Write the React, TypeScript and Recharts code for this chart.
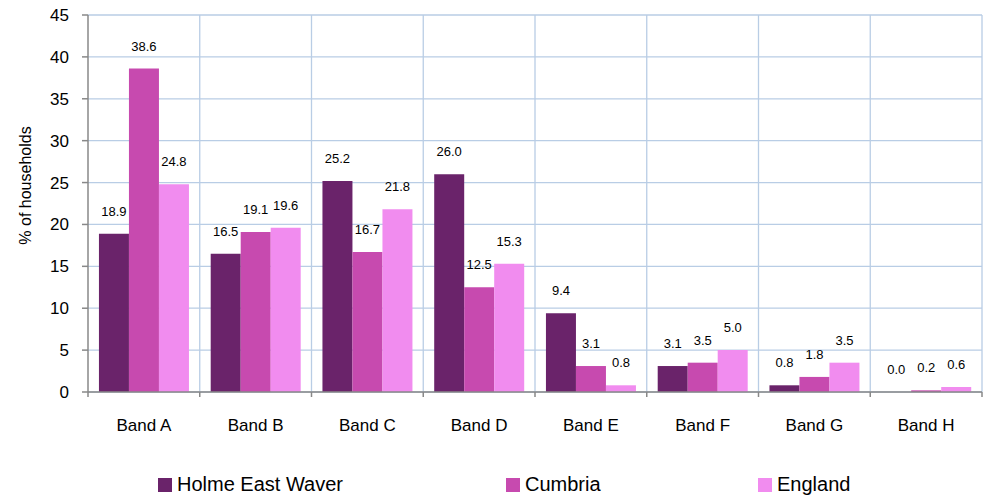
import * as React from 'react';
import {
  BarChart,
  Bar,
  XAxis,
  YAxis,
  CartesianGrid,
  Legend,
  LabelList
} from 'recharts';

const bands = ['Band A', 'Band B', 'Band C', 'Band D', 'Band E', 'Band F', 'Band G', 'Band H'];
const holme = [18.9, 16.5, 25.2, 26.0, 9.4, 3.1, 0.8, 0.0];
const cumbria = [38.6, 19.1, 16.7, 12.5, 3.1, 3.5, 1.8, 0.2];
const england = [24.8, 19.6, 21.8, 15.3, 0.8, 5.0, 3.5, 0.6];
const yTicks = [0, 5, 10, 15, 20, 25, 30, 35, 40, 45];

const series = [
  { key: 'holme', name: 'Holme East Waver', color: '#6A236A' },
  { key: 'cumbria', name: 'Cumbria', color: '#C74AAF' },
  { key: 'england', name: 'England', color: '#F18CEF' }
];

const data = bands.map((band, i) => ({
  band,
  holme: holme[i],
  cumbria: cumbria[i],
  england: england[i]
}));

// legend item left edges, like the Excel layout
const legendLeft = [158, 506, 758];

const AXIS = '#888888';
const GRID = '#B9CDE5';
const LABEL_GAP = 18;

function LegendContent() {
  return (
    <div style={{ position: 'relative', height: 52, width: 984 }}>
      {series.map((s, i) => (
        <div
          key={s.key}
          style={{
            position: 'absolute',
            left: legendLeft[i],
            top: 28,
            display: 'flex',
            alignItems: 'center',
            fontSize: 20,
            color: '#000',
            whiteSpace: 'nowrap'
          }}
        >
          <span
            style={{
              display: 'inline-block',
              width: 14,
              height: 14,
              background: s.color,
              marginRight: 5
            }}
          />
          {s.name}
        </div>
      ))}
    </div>
  );
}

function YLabel(props: any) {
  const vb = props.viewBox || {};
  const x = 25;
  const y = vb.y + vb.height / 2 - 18;
  return (
    <text
      x={x}
      y={y}
      transform={`rotate(-90 ${x} ${y})`}
      textAnchor="middle"
      dominantBaseline="central"
      fontSize={16}
      fill="#000"
    >
      % of households
    </text>
  );
}

// category label plus tick marks on the band edges
function BandTick(props: any) {
  const { x, y, payload, index, width, visibleTicksCount } = props;
  const half =
    typeof payload?.offset === 'number' && payload.offset > 0
      ? payload.offset
      : width / visibleTicksCount / 2;
  const last = index === visibleTicksCount - 1;
  return (
    <g>
      <line x1={x - half} x2={x - half} y1={y} y2={y + 5} stroke={AXIS} strokeWidth={1.5} />
      {last && (
        <line x1={x + half} x2={x + half} y1={y} y2={y + 5} stroke={AXIS} strokeWidth={1.5} />
      )}
      <text x={x} y={y + 39} textAnchor="middle" fontSize={17} fill="#000">
        {payload.value}
      </text>
    </g>
  );
}

function ValueLabel(props: any) {
  const { x, y, width, height, value, index, seriesKey } = props;
  const cx = Number(x) + Number(width) / 2;
  const out = [];
  if (value !== undefined && value !== null) {
    out.push(
      <text key="v" x={cx} y={Number(y) - LABEL_GAP} textAnchor="middle" fontSize={13} fill="#000">
        {Number(value).toFixed(1)}
      </text>
    );
  }
  // recharts skips zero-height bars, so the Holme label for a 0 is drawn
  // from the neighbouring Cumbria bar's base
  if (seriesKey === 'cumbria' && holme[index] === 0) {
    const base = Number(y) + Number(height);
    out.push(
      <text
        key="z"
        x={cx - Number(width)}
        y={base - LABEL_GAP}
        textAnchor="middle"
        fontSize={13}
        fill="#000"
      >
        {holme[index].toFixed(1)}
      </text>
    );
  }
  return <g>{out}</g>;
}

export default function App() {
  return (
    <div
      style={{
        position: 'absolute',
        left: 0,
        top: 0,
        width: 984,
        height: 497,
        background: '#fff',
        fontFamily: "Arial, 'Liberation Sans', sans-serif"
      }}
    >
      <BarChart
        width={984}
        height={497}
        data={data}
        margin={{ top: 15, right: 2, left: 0, bottom: 0 }}
        barCategoryGap="9.8%"
        barGap={0}
      >
        <CartesianGrid
          stroke={GRID}
          strokeWidth={1.3}
          xAxisId="cat"
          verticalCoordinatesGenerator={({ offset }: any) =>
            bands.map((_, i) => offset.left + ((i + 1) * offset.width) / bands.length)
          }
        />
        <XAxis
          xAxisId="cat"
          dataKey="band"
          height={53}
          axisLine={{ stroke: AXIS, strokeWidth: 1.5 }}
          tickLine={false}
          tickSize={0}
          tickMargin={0}
          tick={<BandTick />}
          interval={0}
        />
        <YAxis
          width={88}
          domain={[0, 45]}
          ticks={yTicks}
          tickSize={6}
          tickMargin={13}
          tick={{ fontSize: 17, fill: '#000' }}
          axisLine={{ stroke: AXIS, strokeWidth: 1.5 }}
          tickLine={{ stroke: AXIS, strokeWidth: 1.5 }}
          label={<YLabel />}
        />
        <Legend verticalAlign="bottom" height={52} content={<LegendContent />} />
        {series.map((s) => (
          <Bar
            key={s.key}
            dataKey={s.key}
            name={s.name}
            fill={s.color}
            xAxisId="cat"
            isAnimationActive={false}
          >
            <LabelList dataKey={s.key} content={<ValueLabel seriesKey={s.key} />} />
          </Bar>
        ))}
      </BarChart>
    </div>
  );
}
